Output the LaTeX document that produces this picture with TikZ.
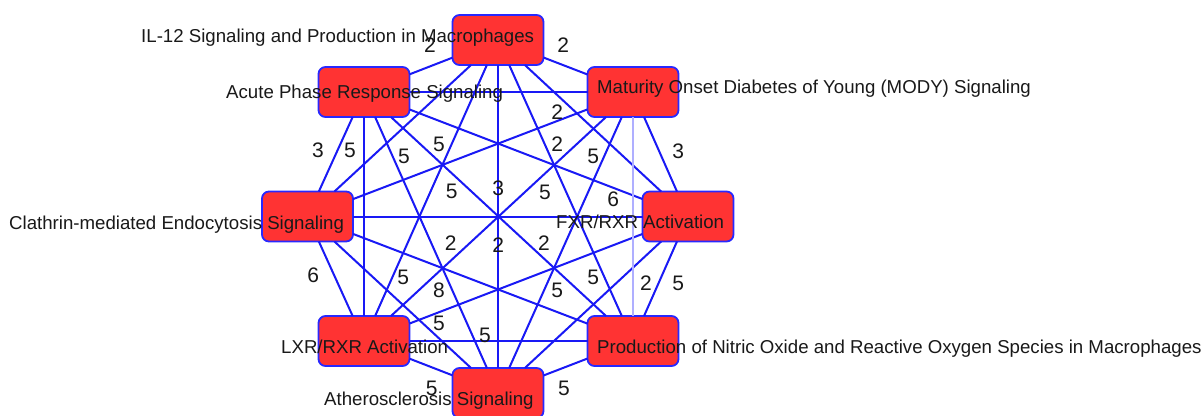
\documentclass[tikz,border=0pt]{standalone}
\usepackage{fontspec}
\setmainfont{Liberation Sans}
\definecolor{edgeblue}{RGB}{25,25,245}
\definecolor{lightedge}{RGB}{175,175,255}
\definecolor{boxred}{RGB}{255,51,51}
\definecolor{boxline}{RGB}{40,40,255}
\definecolor{txt}{RGB}{25,25,25}
\tikzset{
  pathbox/.style={draw=boxline, fill=boxred, line width=1.8pt, rounded corners=7pt,
    minimum width=91pt, minimum height=50pt, inner sep=0pt, outer sep=0pt},
  nlabel/.style={anchor=base west, inner sep=0pt, text=txt, font=\fontsize{18.65}{20}\selectfont},
  elabel/.style={anchor=center, inner sep=0pt, text=txt, font=\fontsize{21}{22}\selectfont},
  edge/.style={draw=edgeblue, line width=2pt},
  paleedge/.style={draw=lightedge, line width=2pt}
}
\begin{document}
\begin{tikzpicture}[x=1pt,y=-1pt]
\clip (0,0) rectangle (1202,415);
\fill[white] (0,0) rectangle (1202,415);
% boxes
\node[pathbox] (I) at (498,40) {};
\node[pathbox] (U) at (364,92) {};
\node[pathbox] (M) at (633,92) {};
\node[pathbox] (C) at (307.5,216.5) {};
\node[pathbox] (F) at (688,216.5) {};
\node[pathbox] (L) at (364,341) {};
\node[pathbox] (P) at (633,341) {};
\node[pathbox] (A) at (498,393) {};
% edges
\foreach \s/\t in {I/U,I/M,I/C,I/F,I/L,I/P,I/A,
                   U/M,U/C,U/F,U/L,U/P,U/A,
                   M/C,M/F,M/L,M/A,
                   C/F,C/L,C/P,C/A,
                   F/L,F/P,F/A,
                   L/P,L/A,
                   P/A}
  \draw[edge] (\s) -- (\t);
\draw[paleedge] (M) -- (P);
% node labels
\node[nlabel] (It) at (141,42) {IL-12 Signaling and Production in Macrophages};
\node[nlabel] (Ut) at (226,98.5) {Acute Phase Response Signaling};
\node[nlabel] (Mt) at (597,93) {Maturity Onset Diabetes of Young (MODY) Signaling};
\node[nlabel] (Ct) at (9,229) {Clathrin-mediated Endocytosis Signaling};
\node[nlabel] (Ft) at (556,228.5) {FXR/RXR Activation};
\node[nlabel] (Lt) at (281,353) {LXR/RXR Activation};
\node[nlabel] (Pt) at (597,353) {Production of Nitric Oxide and Reactive Oxygen Species in Macrophages};
\node[nlabel] (At) at (324,405) {Atherosclerosis Signaling};
% edge labels
\node[elabel] (e1) at (430,45) {2};
\node[elabel] (e2) at (563.3,45) {2};
\node[elabel] (e3) at (557.3,111.7) {2};
\node[elabel] (e4) at (318,150.3) {3};
\node[elabel] (e5) at (350,150.3) {5};
\node[elabel] (e6) at (404,156.7) {5};
\node[elabel] (e7) at (439,144) {5};
\node[elabel] (e8) at (557.3,144) {2};
\node[elabel] (e9) at (593.3,156) {5};
\node[elabel] (e10) at (678.3,151.7) {3};
\node[elabel] (e11) at (451.7,191.7) {5};
\node[elabel] (e12) at (498.3,188.3) {3};
\node[elabel] (e13) at (545,192.7) {5};
\node[elabel] (e14) at (613.3,199) {6};
\node[elabel] (e15) at (450.7,243.3) {2};
\node[elabel] (e16) at (498.3,245) {2};
\node[elabel] (e17) at (544,243.3) {2};
\node[elabel] (e18) at (313.3,275) {6};
\node[elabel] (e19) at (403.3,277.3) {5};
\node[elabel] (e20) at (439,290) {8};
\node[elabel] (e21) at (593.3,277.3) {5};
\node[elabel] (e22) at (557.3,290) {5};
\node[elabel] (e23) at (646,283.3) {2};
\node[elabel] (e24) at (678.3,283.3) {5};
\node[elabel] (e25) at (439,323.3) {5};
\node[elabel] (e26) at (485,335) {5};
\node[elabel] (e27) at (431.7,388.3) {5};
\node[elabel] (e28) at (564,388.3) {5};
\end{tikzpicture}
\end{document}
